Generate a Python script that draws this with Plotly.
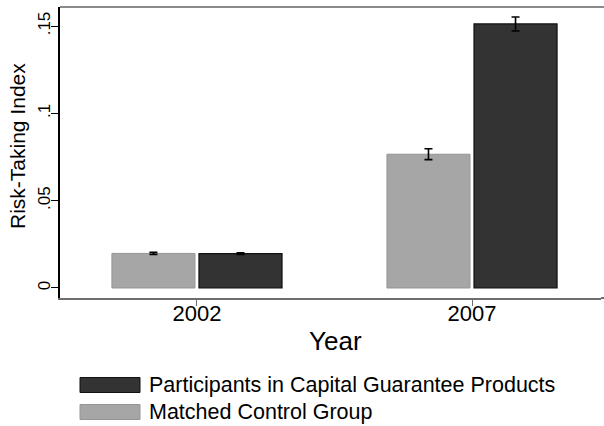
import plotly.graph_objects as go

years = ["2002", "2007"]
series_names = ["Participants in Capital Guarantee Products", "Matched Control Group"]
control = [0.0198, 0.0766]
control_err = [0.0006, 0.0031]
participants = [0.0197, 0.1512]
participants_err = [0.0005, 0.0040]
ytick_vals = [0, 0.05, 0.1, 0.15]
ytick_text = ["0", ".05", ".1", ".15"]

FONT = "Liberation Sans, Arial, sans-serif"
W, H = 604, 426
L, R, T, B = 60, 3, 7, 128
pw, ph = W - L - R, H - T - B

def px(x):
    return (x - L) / pw

def py(y):
    return (H - B - y) / ph

ctrl_color = "#a6a6a6"
part_color = "#333333"

fig = go.Figure()
fig.add_trace(go.Bar(
    x=years, y=control, name=series_names[1],
    marker=dict(color=ctrl_color, line=dict(color="#959595", width=1)),
    error_y=dict(type="data", array=control_err, color="black", thickness=1.6, width=4),
    showlegend=False,
))
fig.add_trace(go.Bar(
    x=years, y=participants, name=series_names[0],
    marker=dict(color=part_color, line=dict(color="#111111", width=1.2)),
    error_y=dict(type="data", array=participants_err, color="black", thickness=1.6, width=4),
    showlegend=False,
))

fig.update_layout(
    width=W, height=H,
    margin=dict(l=L, r=R, t=T, b=B, pad=0),
    paper_bgcolor="white", plot_bgcolor="white",
    barmode="group", bargap=0.367, bargroupgap=0.046,
    font=dict(family=FONT, color="black"),
    xaxis=dict(
        type="category", range=[-0.498, 1.469],
        showline=True, linecolor="#6e6e6e", linewidth=2, mirror=False,
        ticks="outside", ticklen=6, tickcolor="#6e6e6e", tickwidth=1,
        tickfont=dict(size=22, family=FONT, color="black"),
        ticklabelstandoff=-11,
        showgrid=False, zeroline=False,
    ),
    yaxis=dict(
        range=[-0.00573, 0.1609],
        tickvals=ytick_vals, ticktext=ytick_text, tickangle=-90,
        showline=True, linecolor="black", linewidth=1.5, mirror=False,
        ticks="outside", ticklen=7, tickcolor="black", tickwidth=1,
        tickfont=dict(size=17, family=FONT, color="black"),
        ticklabelstandoff=-6,
        showgrid=False, zeroline=False,
    ),
)

annotations = [
    dict(text="Year", x=px(335), y=py(341), xref="paper", yref="paper",
         xanchor="center", yanchor="middle", showarrow=False,
         font=dict(size=26, family=FONT, color="black")),
    dict(text="Risk-Taking Index", x=px(17), y=py(146), xref="paper", yref="paper",
         xanchor="center", yanchor="middle", textangle=-90, showarrow=False,
         font=dict(size=21, family=FONT, color="black")),
]

shapes = [
    # top frame line, running to the page edge
    dict(type="line", xref="paper", yref="paper", layer="above",
         x0=0, x1=px(606), y0=1, y1=1,
         line=dict(color="#8a8a8a", width=2)),
    # bottom axis line continued to the page edge
    dict(type="line", xref="paper", yref="paper", layer="below",
         x0=1.0, x1=px(606), y0=0, y1=0,
         line=dict(color="#6e6e6e", width=2)),
]

# manual legend
legend_rows = [(series_names[0], part_color, "#111111", 385), (series_names[1], ctrl_color, "#959595", 412)]
for name, fill, line, yc in legend_rows:
    shapes.append(dict(type="rect", xref="paper", yref="paper",
                       x0=px(80), x1=px(140), y0=py(yc + 7.5), y1=py(yc - 7.5),
                       fillcolor=fill, line=dict(color=line, width=1)))
    annotations.append(dict(text=name, x=px(147), y=py(yc), xref="paper", yref="paper",
                            xanchor="left", yanchor="middle", showarrow=False,
                            font=dict(size=21.5, family=FONT, color="black")))

fig.update_layout(annotations=annotations, shapes=shapes, dragmode=False)
fig.write_html("out.html", config={"displayModeBar": False})
